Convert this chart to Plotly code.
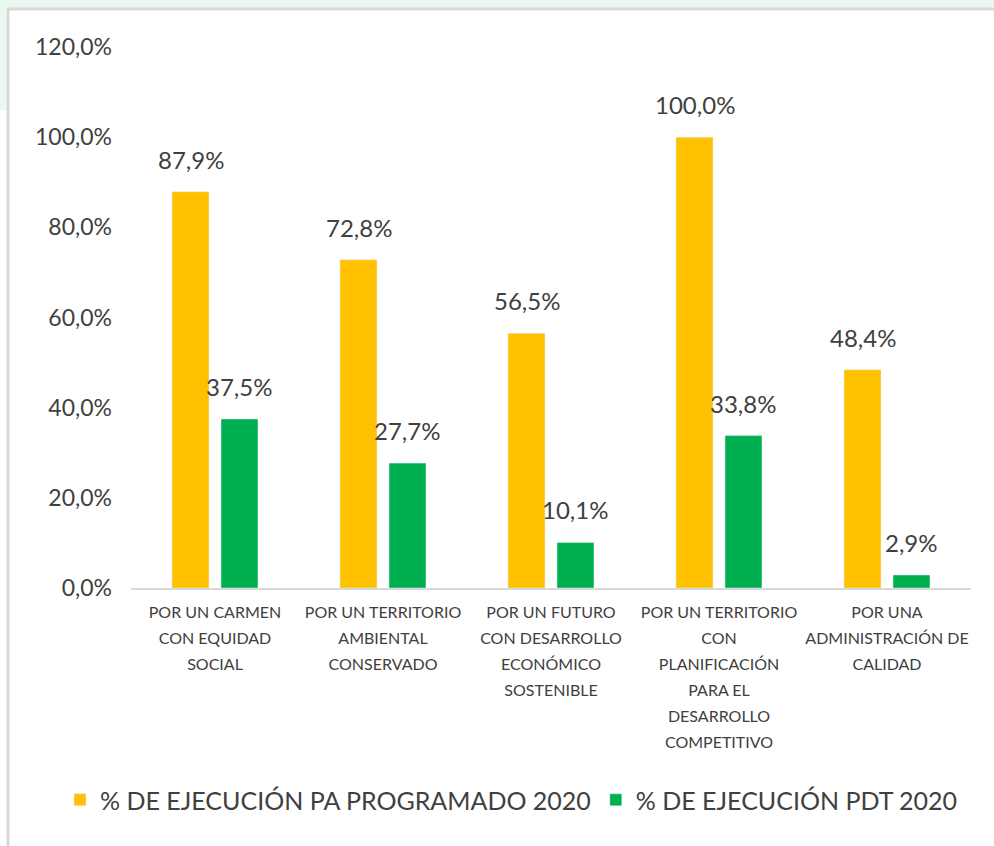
import plotly.graph_objects as go

categories = [
    "POR UN CARMEN<br>CON EQUIDAD<br>SOCIAL",
    "POR UN TERRITORIO<br>AMBIENTAL<br>CONSERVADO",
    "POR UN FUTURO<br>CON DESARROLLO<br>ECONÓMICO<br>SOSTENIBLE",
    "POR UN TERRITORIO<br>CON<br>PLANIFICACIÓN<br>PARA EL<br>DESARROLLO<br>COMPETITIVO",
    "POR UNA<br>ADMINISTRACIÓN DE<br>CALIDAD",
]
pa_programado = [0.879, 0.728, 0.565, 1.000, 0.484]
pdt = [0.375, 0.277, 0.101, 0.338, 0.029]
series_names = ["% DE EJECUCIÓN PA PROGRAMADO 2020", "% DE EJECUCIÓN PDT 2020"]
colors = ["#FFC000", "#00B050"]

FONT = "Lato"
TXT = "#404040"
W, H = 994, 846
ml, mr, mt, mb = 131, 23, 47, 258
BARGAP, GROUPGAP = 0.4167, 0.245

# category tick labels: wider line spacing via base size 20, glyphs at 16px
tick_text = ["<br>".join(f"<span style='font-size:16px'>{ln}</span>" for ln in c.split("<br>"))
             for c in categories]

fig = go.Figure()
for name, vals, col in zip(series_names, [pa_programado, pdt], colors):
    fig.add_trace(go.Bar(x=categories, y=vals, name=name, marker_color=col))

# value labels above bars
cat_px = (W - ml - mr) / len(categories)
slot_px = cat_px * (1 - BARGAP) / 2
annotations = []
for k, vals in enumerate([pa_programado, pdt]):
    shift = (k - 0.5) * slot_px
    for c, v in zip(categories, vals):
        annotations.append(dict(
            x=c, y=v, xref="x", yref="y", text=f"{v*100:.1f}%".replace(".", ","),
            showarrow=False, xshift=shift, yanchor="bottom", yshift=16,
            font=dict(family=FONT, size=24, color=TXT),
        ))

def px2paper_x(px):
    return (px - ml) / (W - ml - mr)

def px2paper_y(py):
    return (H - mb - py) / (H - mt - mb)

shapes = [
    dict(type="rect", xref="paper", yref="paper", x0=px2paper_x(0), x1=px2paper_x(W),
         y0=px2paper_y(0), y1=px2paper_y(8), fillcolor="#EAF8EF", line_width=0, layer="below"),
    dict(type="rect", xref="paper", yref="paper", x0=px2paper_x(0), x1=px2paper_x(7),
         y0=px2paper_y(0), y1=px2paper_y(110), fillcolor="#EAF8EF", line_width=0, layer="below"),
    dict(type="line", xref="paper", yref="paper", x0=px2paper_x(7), x1=px2paper_x(W),
         y0=px2paper_y(9), y1=px2paper_y(9), line=dict(color="#D9D9D9", width=3)),
    dict(type="line", xref="paper", yref="paper", x0=px2paper_x(8), x1=px2paper_x(8),
         y0=px2paper_y(9), y1=px2paper_y(H), line=dict(color="#D9D9D9", width=3)),
]

fig.update_layout(
    width=W, height=H,
    margin=dict(l=ml, r=mr, t=mt, b=mb, autoexpand=False),
    paper_bgcolor="white", plot_bgcolor="white",
    separators=",.",
    barmode="group", bargap=BARGAP, bargroupgap=GROUPGAP,
    font=dict(family=FONT, color=TXT),
    showlegend=True,
    legend=dict(orientation="h", xref="paper", yref="paper",
                x=px2paper_x(60), xanchor="left", y=px2paper_y(800), yanchor="middle",
                font=dict(family=FONT, size=25, color=TXT),
                itemwidth=30, tracegroupgap=0),
    xaxis=dict(showline=True, linecolor="#D9D9D9", linewidth=2, ticks="",
               tickmode="array", tickvals=categories, ticktext=tick_text,
               tickfont=dict(family=FONT, size=20, color=TXT), tickangle=0,
               automargin=False, ticklabelstandoff=4),
    yaxis=dict(range=[0, 1.2], dtick=0.2, tickformat=".1%", showgrid=False,
               zeroline=False, showline=False, automargin=False,
               tickfont=dict(family=FONT, size=23, color=TXT), ticklabelstandoff=18),
    shapes=shapes,
    annotations=annotations,
)

fig.write_html("out.html", config={"displayModeBar": False},
               post_script="document.body.style.margin='0';document.body.style.overflow='hidden';")
